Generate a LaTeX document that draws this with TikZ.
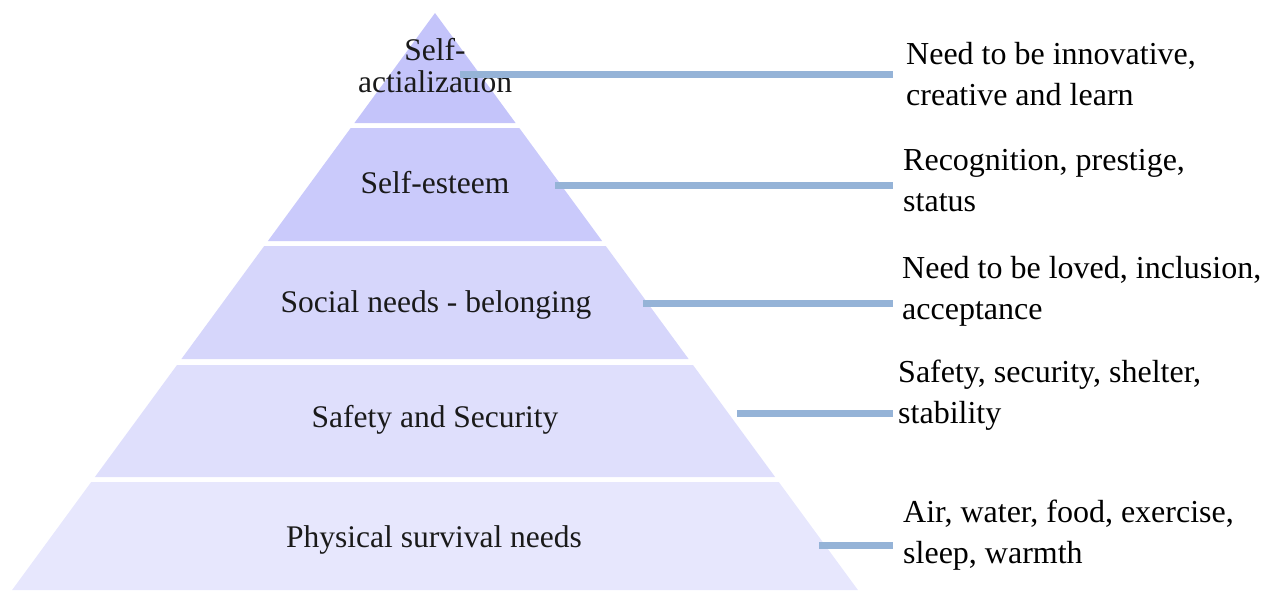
\documentclass[tikz,border=0pt]{standalone}
\usepackage{fontspec}
\setmainfont{Liberation Serif}
\definecolor{layA}{HTML}{C4C4FA}
\definecolor{layB}{HTML}{CACAFB}
\definecolor{layC}{HTML}{D6D6FB}
\definecolor{layD}{HTML}{DFDFFC}
\definecolor{layE}{HTML}{E7E7FD}
\definecolor{connblue}{HTML}{95B3D7}
\definecolor{labgray}{HTML}{1A1A1A}
\tikzset{
  lab/.style={inner sep=0pt, anchor=base, text=labgray, font=\fontsize{31.5}{32}\selectfont},
  desc/.style={inner ysep=0pt, inner xsep=10pt, anchor=base west, text=black, font=\fontsize{32}{41}\selectfont},
  conn/.style={draw=connblue, line width=7pt, line cap=butt},
}
\begin{document}
\begin{tikzpicture}[x=1pt,y=-1pt]
\useasboundingbox (0,0) rectangle (1277,590);
% pyramid layers
\fill[layA] (435,13) -- (515.6,123) -- (354.4,123) -- cycle;
\fill[layB] (350.7,128) -- (519.3,128) -- (602.1,241) -- (267.9,241) -- cycle;
\fill[layC] (264.2,246) -- (605.8,246) -- (688.6,359) -- (181.4,359) -- cycle;
\fill[layD] (177.0,365) -- (693.0,365) -- (775.1,477) -- (94.9,477) -- cycle;
\fill[layE] (91.2,482) -- (778.8,482) -- (857.9,590) -- (12.1,590) -- cycle;
% layer labels
\node[lab] (a1) at (435,60) {\begin{tabular}[t]{@{}c@{}}Self-\\actialization\end{tabular}};
\node[lab] (a2) at (435,193) {Self-esteem};
\node[lab] (a3) at (436,312) {Social needs - belonging};
\node[lab] (a4) at (435,427) {Safety and Security};
\node[lab] (a5) at (434,547) {Physical survival needs};
% descriptions
\node[desc, inner xsep=13pt] (t1) at (893,64) {\begin{tabular}[t]{@{}l@{}}Need to be innovative,\\creative and learn\end{tabular}};
\node[desc] (t2) at (893,170) {\begin{tabular}[t]{@{}l@{}}Recognition, prestige,\\status\end{tabular}};
\node[desc, inner xsep=9pt] (t3) at (893,278) {\begin{tabular}[t]{@{}l@{}}Need to be loved, inclusion,\\acceptance\end{tabular}};
\node[desc, inner xsep=5pt] (t4) at (893,382) {\begin{tabular}[t]{@{}l@{}}Safety, security, shelter,\\stability\end{tabular}};
\node[desc] (t5) at (893,522) {\begin{tabular}[t]{@{}l@{}}Air, water, food, exercise,\\sleep, warmth\end{tabular}};
% connector start points
\coordinate (c1) at (460,74);
\coordinate (c2) at (555,185);
\coordinate (c3) at (643,303);
\coordinate (c4) at (737,413);
\coordinate (c5) at (819,545);
\draw[conn] (c1) -- (c1 -| t1.west);
\draw[conn] (c2) -- (c2 -| t2.west);
\draw[conn] (c3) -- (c3 -| t3.west);
\draw[conn] (c4) -- (c4 -| t4.west);
\draw[conn] (c5) -- (c5 -| t5.west);
\end{tikzpicture}
\end{document}
